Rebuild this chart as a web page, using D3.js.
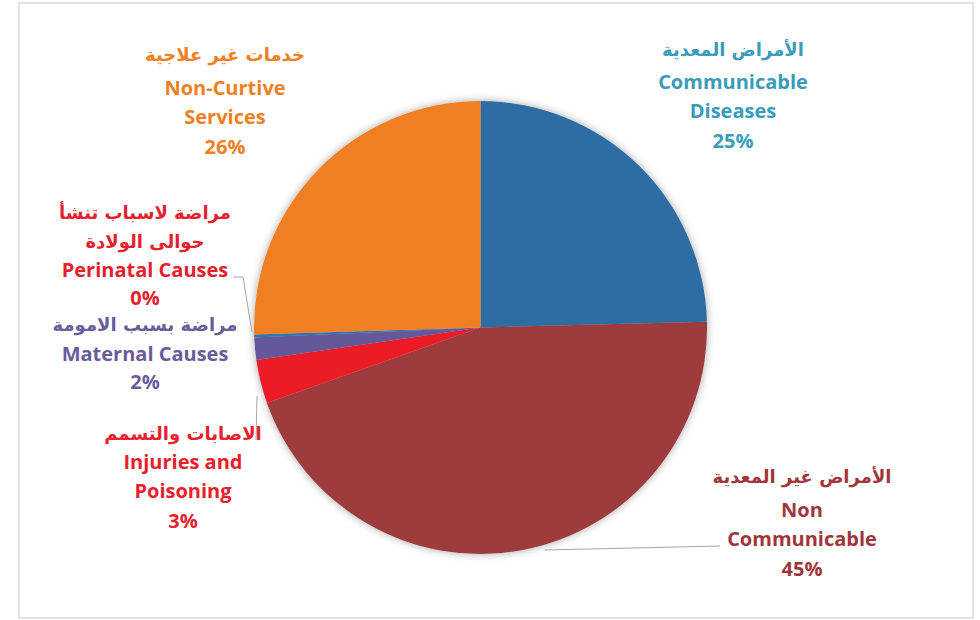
<!DOCTYPE html>
<html><head><meta charset="utf-8">
<script src="https://cdn.jsdelivr.net/npm/d3@7"></script>
<style>
html,body{margin:0;padding:0;background:#fff;}
svg text{font-family:"Open Sans","DejaVu Sans",sans-serif;font-weight:700;}
</style></head>
<body>
<svg id="chart" width="980" height="620"></svg>
<script>
// ---- data ----
const categories = ["Communicable Diseases","Non Communicable","Injuries and Poisoning","Maternal Causes","Perinatal Causes","Non-Curtive Services"];
const arabicNames = ["الأمراض المعدية","الأمراض غير المعدية","الاصابات والتسمم","مراضة بسبب الامومة","مراضة لاسباب تنشأ|حوالى الولادة","خدمات غير علاجية"];
const englishLines = [["Communicable","Diseases"],["Non","Communicable"],["Injuries and","Poisoning"],["Maternal Causes"],["Perinatal Causes"],["Non-Curtive","Services"]];
const values = [24.6, 45.0, 3.1, 1.6, 0.2, 25.5];
const percentLabels = ["25%","45%","3%","2%","0%","26%"];
const sliceColors = ["#2E6DA4","#9E3A3D","#EC1C27","#65589A","#2E75B6","#F07E22"];
const textColors = ["#3A9BBB","#A0363B","#E8202C","#6A5B9A","#E5202E","#F07E22"];

const svg = d3.select("#chart");
// frame
svg.append("rect").attr("x",19).attr("y",3).attr("width",954).attr("height",615)
  .attr("fill","#fff").attr("stroke","#d9d9d9").attr("stroke-width",1.5);

const defs = svg.append("defs");
const f = defs.append("filter").attr("id","shadow").attr("x","-20%").attr("y","-20%").attr("width","140%").attr("height","140%");
f.append("feGaussianBlur").attr("in","SourceAlpha").attr("stdDeviation",4).attr("result","b");
f.append("feOffset").attr("in","b").attr("dx",0).attr("dy",0).attr("result","o");
f.append("feComponentTransfer").attr("in","o").attr("result","o2").append("feFuncA").attr("type","linear").attr("slope",0.35);
const m = f.append("feMerge"); m.append("feMergeNode").attr("in","o2"); m.append("feMergeNode").attr("in","SourceGraphic");

const cx = 480.5, cy = 327.5, r = 226.5;
const pie = d3.pie().sort(null).value(d=>d)(values);
const arc = d3.arc().innerRadius(0).outerRadius(r);
const g = svg.append("g").attr("transform",`translate(${cx},${cy})`);
g.append("g").attr("filter","url(#shadow)").selectAll("path").data(pie).join("path")
  .attr("d",arc).attr("fill",(d,i)=>sliceColors[i]);

// leader lines
const leaders = [
  null,
  [[545,550],[720,546]],
  [[256,440],[257,396]],
  null,
  [[233,277],[243,277],[252,332]],
  null
];
leaders.forEach(p=>{ if(p) svg.append("path").attr("d",d3.line()(p)).attr("fill","none").attr("stroke","#a6a6a6").attr("stroke-width",1); });

// label layout: center x and line center ys
const labelPos = [
  {x:733, ys:[50,82,111,141]},
  {x:802, ys:[477,510,539,569]},
  {x:183, ys:[434,462,491,521]},
  {x:145, ys:[325,354,382]},
  {x:145, ys:[213,242,270,298]},
  {x:225, ys:[55,88,117,147]}
];
categories.forEach((c,i)=>{
  const lines = arabicNames[i].split("|").map(t=>({t,ar:true}))
    .concat(englishLines[i].map(t=>({t,ar:false})))
    .concat([{t:percentLabels[i],ar:false}]);
  const lp = labelPos[i];
  lines.forEach((ln,j)=>{
    svg.append("text").attr("x",lp.x).attr("y",lp.ys[j]).attr("dy","0.35em")
      .attr("text-anchor","middle").attr("fill",textColors[i])
      .attr("font-size", ln.ar ? 18 : 20)
      .style("font-family", ln.ar ? "'DejaVu Sans',sans-serif" : null)
      .attr("direction", ln.ar ? "rtl" : null)
      .text(ln.t);
  });
});
</script>
</body></html>
